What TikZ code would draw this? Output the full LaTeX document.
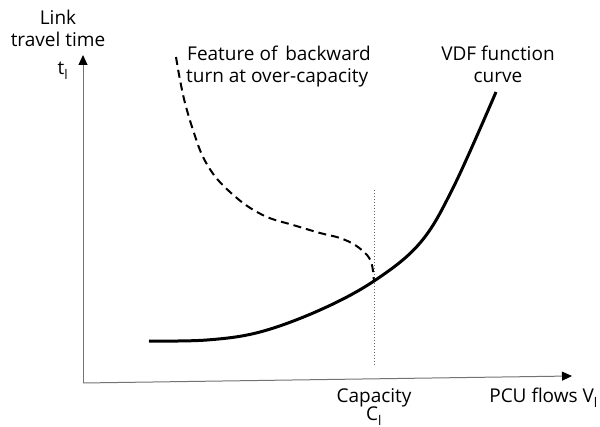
\documentclass[tikz,border=0pt]{standalone}
\usepackage{fontspec}
\setmainfont{Open Sans}
\usetikzlibrary{arrows.meta}
\tikzset{
  lbl/.style={font=\fontsize{19}{22}\selectfont, inner sep=0pt, anchor=base},
  axisline/.style={color=black!55, line width=1pt},
  axistip/.style={arrows={-{Triangle[length=10pt,width=9pt,black,fill=black]}}},
  vdf/.style={line width=3pt},
  back/.style={line width=2pt, dash pattern=on 8pt off 5pt},
}
\begin{document}
\begin{tikzpicture}[x=1pt,y=-1pt]
\useasboundingbox (0,0) rectangle (600,427);
\coordinate (O) at (83,383);
\coordinate (ytip) at (83,55);
\coordinate (xtip) at (572,376);
\draw[axisline, axistip] (O) -- (ytip);
\draw[axisline, axistip] (O) -- (xtip);
\coordinate (cap) at (374,282);
\coordinate (capbot) at (374,366);
\coordinate (captop) at (374,190);
\draw[black!60, line width=0.6pt, dash pattern=on 1.5pt off 1.5pt] (captop) -- (capbot);
\draw[vdf] plot[smooth, tension=0.6] coordinates {(149,341) (207,340) (260,332) (320,310) (374,281) (420,243) (453,188) (496,92)};
\draw[back] plot[smooth, tension=0.55] coordinates {(176,57) (180,80) (185,103) (193,130) (203,157) (218,180) (243,203) (267,217) (293,225) (320,233) (340,238) (355,245) (367,255) (372,265) (374,282)};
\node[lbl] (ylab1) at (58,25) {Link};
\node[lbl] (ylab2) at (58,47) {travel time};
\node[lbl] (tl) at (63,75) {t\textsubscript{l}};
\node[lbl, anchor=base west] (feat1) at (187,61) {Feature of\hspace{0.15em} backward};
\node[lbl, anchor=base west] (feat2) at (186,83) {turn at over-capacity};
\node[lbl] (vdf1) at (498,61) {VDF function};
\node[lbl] (vdf2) at (498,83) {curve};
\node[lbl] (cap1) at (374,403) {Capacity};
\node[lbl] (cap2) at (374,421) {C\textsubscript{l}};
\node[lbl, anchor=base east] (xlab) at (598,403) {PCU flows V\textsubscript{l}};
\end{tikzpicture}
\end{document}
